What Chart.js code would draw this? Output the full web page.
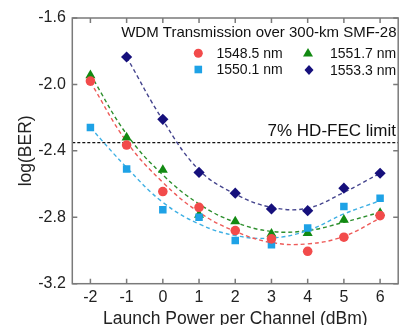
<!DOCTYPE html>
<html><head><meta charset="utf-8">
<script src="https://cdn.jsdelivr.net/npm/chart.js@4"></script>
<style>html,body{margin:0;padding:0;background:#fff;overflow:hidden}#wrap{width:404px;height:325px;position:relative}</style>
</head><body><div id="wrap"><canvas id="c"></canvas></div>
<script>
// ---- data ----
const launchPower = [-2, -1, 0, 1, 2, 3, 4, 5, 6];
const seriesNames = ['1548.5 nm', '1550.1 nm', '1551.7 nm', '1553.3 nm'];
const ber1548 = [-1.98, -2.365, -2.645, -2.74, -2.88, -2.93, -3.005, -2.92, -2.79];
const ber1550 = [-2.26, -2.51, -2.755, -2.80, -2.94, -2.965, -2.865, -2.735, -2.685];
const ber1551 = [-1.945, -2.32, -2.515, -2.785, -2.825, -2.90, -2.895, -2.815, -2.775];
const ber1553 = [null, -1.835, -2.21, -2.53, -2.655, -2.75, -2.76, -2.625, -2.535];
// dashed fitted curves at each launch power
const fit1548 = [-1.985, -2.345, -2.59, -2.77, -2.885, -2.952, -2.96, -2.915, -2.805];
const fit1550 = [-2.26, -2.50, -2.71, -2.84, -2.91, -2.925, -2.88, -2.78, -2.70];
const fit1551 = [-1.94, -2.30, -2.545, -2.72, -2.83, -2.885, -2.88, -2.83, -2.77];
const fit1553 = [null, -1.835, -2.215, -2.515, -2.66, -2.74, -2.745, -2.65, -2.535];
const xTicks = [-2, -1, 0, 1, 2, 3, 4, 5, 6];
const yTicks = [-1.6, -2.0, -2.4, -2.8, -3.2];
const fecLimit = -2.35;
const fecLabel = '7% HD-FEC limit';
const legendTitle = 'WDM Transmission over 300-km SMF-28';
const xTitle = 'Launch Power per Channel (dBm)';
const yTitle = 'log(BER)';

const colors = ['#f24b4b', '#1ea2e6', '#128a12', '#16107c'];
const fitColors = ['#ee5a58', '#3fb0e4', '#2d8f2d', '#45458e'];
const styles = ['circle', 'rect', 'triangle', 'rectRot'];
const radii = [4.8, 5.3, 5.8, 5.6];
const FONT = '"Liberation Sans", Arial, sans-serif';

function pts(arr) {
  const out = [];
  launchPower.forEach((x, i) => { if (arr[i] !== null) out.push({x: x, y: arr[i]}); });
  return out;
}
const bers = [ber1548, ber1550, ber1551, ber1553];
const fits = [fit1548, fit1550, fit1551, fit1553];

const datasets = [];
bers.forEach((b, i) => datasets.push({
  label: seriesNames[i], data: pts(b), showLine: false,
  pointStyle: styles[i], pointRadius: radii[i], pointHoverRadius: radii[i],
  backgroundColor: colors[i], borderColor: colors[i], borderWidth: 0
}));
fits.forEach((f, i) => datasets.push({
  label: 'fit ' + seriesNames[i], data: pts(f), showLine: true, pointRadius: 0,
  borderColor: fitColors[i], borderWidth: 1.4, borderDash: [4, 3], tension: 0.4, fill: false
}));
datasets.push({
  label: fecLabel, data: [{x: -2.5, y: fecLimit}, {x: 6.5, y: fecLimit}], showLine: true,
  pointRadius: 0, borderColor: '#111', borderWidth: 1.3, borderDash: [3, 2], tension: 0
});

const decor = {
  id: 'decor',
  afterDraw(chart) {
    const ctx = chart.ctx, a = chart.chartArea;
    const xs = chart.scales.x, ys = chart.scales.y;
    ctx.save();
    // frame
    ctx.strokeStyle = '#7a7a7a'; ctx.lineWidth = 1.5;
    ctx.strokeRect(a.left, a.top, a.right - a.left, a.bottom - a.top);
    // inward ticks
    ctx.beginPath();
    xTicks.forEach(v => {
      const p = xs.getPixelForValue(v);
      ctx.moveTo(p, a.bottom); ctx.lineTo(p, a.bottom - 5);
      ctx.moveTo(p, a.top); ctx.lineTo(p, a.top + 5);
    });
    yTicks.forEach(v => {
      const p = ys.getPixelForValue(v);
      ctx.moveTo(a.left, p); ctx.lineTo(a.left + 5, p);
      ctx.moveTo(a.right, p); ctx.lineTo(a.right - 5, p);
    });
    ctx.stroke();
    // FEC label
    ctx.fillStyle = '#111';
    ctx.font = '17px ' + FONT; ctx.textAlign = 'right'; ctx.textBaseline = 'alphabetic';
    ctx.fillText(fecLabel, 396, ys.getPixelForValue(fecLimit) - 7);
    // legend title
    ctx.font = '15px ' + FONT;
    ctx.fillText(legendTitle, 396.5, 37.3);
    // legend entries
    const pos = [[198.3, 53.3], [198.3, 69.5], [308, 53], [309, 70]];
    ctx.font = '14px ' + FONT; ctx.textAlign = 'left';
    [0, 1, 2, 3].forEach(i => {
      const [cx, cy] = pos[i];
      ctx.fillStyle = colors[i];
      ctx.beginPath();
      if (styles[i] === 'circle') { ctx.arc(cx, cy, 4.5, 0, Math.PI * 2); }
      else if (styles[i] === 'rect') { ctx.rect(cx - 3.8, cy - 3.8, 7.6, 7.6); }
      else if (styles[i] === 'triangle') { ctx.moveTo(cx, cy - 5); ctx.lineTo(cx + 5, cy + 3.5); ctx.lineTo(cx - 5, cy + 3.5); ctx.closePath(); }
      else { ctx.moveTo(cx, cy - 5); ctx.lineTo(cx + 4.5, cy); ctx.lineTo(cx, cy + 5); ctx.lineTo(cx - 4.5, cy); ctx.closePath(); }
      ctx.fill();
      ctx.fillStyle = '#111';
      ctx.fillText(seriesNames[i], i < 2 ? 216.5 : 330, cy + 4.8);
    });
    ctx.restore();
  }
};

new Chart(document.getElementById('c'), {
  type: 'scatter',
  data: {datasets: datasets},
  options: {
    responsive: true, maintainAspectRatio: false, animation: false,
    layout: {padding: {top: 18, right: 1, bottom: 0, left: 0}},
    plugins: {legend: {display: false}, tooltip: {enabled: false}},
    scales: {
      x: {
        type: 'linear', min: -2.5, max: 6.5,
        afterBuildTicks: s => { s.ticks = xTicks.map(v => ({value: v})); },
        afterFit: s => { s.height = 41.3; },
        grid: {display: false, drawTicks: false}, border: {display: false},
        ticks: {padding: 4, color: '#222', font: {family: FONT, size: 16}, callback: v => String(v)},
        title: {display: true, text: xTitle, color: '#222', font: {family: FONT, size: 17.5, lineHeight: 1}, padding: {top: 0, bottom: -2.6}}
      },
      y: {
        type: 'linear', min: -3.2, max: -1.6,
        afterBuildTicks: s => { s.ticks = yTicks.map(v => ({value: v})); },
        afterFit: s => { s.width = 72.3; },
        grid: {display: false, drawTicks: false}, border: {display: false},
        ticks: {padding: 6.5, color: '#222', font: {family: FONT, size: 16}, callback: v => Number(v).toFixed(1)},
        title: {display: true, text: yTitle, color: '#222', font: {family: FONT, size: 17.5, lineHeight: 1}, padding: {top: 17.5, bottom: 0}}
      }
    }
  },
  plugins: [decor]
});
</script></body></html>
